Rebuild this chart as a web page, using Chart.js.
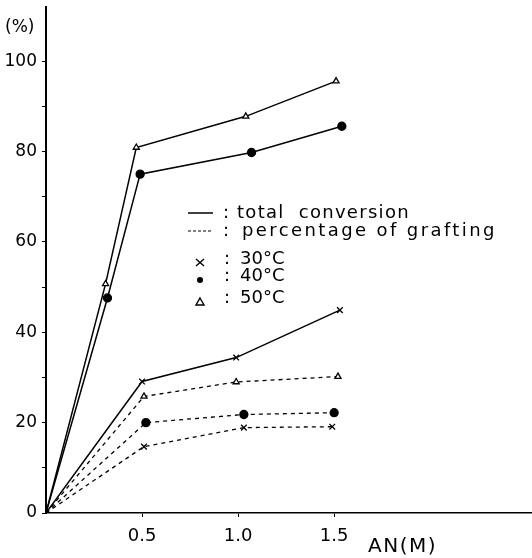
<!DOCTYPE html>
<html>
<head>
<meta charset="utf-8">
<script src="https://cdn.jsdelivr.net/npm/chart.js@4"></script>
<style>
  body { margin: 0; background: #fff; }
  canvas { display: block; }
</style>
</head>
<body>
<canvas id="graftChart" width="532" height="558"></canvas>
<script>
// AN concentration (M) and conversion values (%)
const xTotal30 = [0, 0.50, 0.99, 1.53];
const yTotal30 = [0, 29.1, 34.4, 44.9];
const xTotal40 = [0, 0.32, 0.49, 1.07, 1.54];
const yTotal40 = [0, 47.6, 75.0, 79.8, 85.6];
const xTotal50 = [0, 0.31, 0.47, 1.04, 1.51];
const yTotal50 = [0, 50.7, 80.9, 87.8, 95.6];

const xGraft30 = [0, 0.51, 1.03, 1.49];
const yGraft30 = [0, 14.7, 18.9, 19.1];
const xGraft40 = [0, 0.52, 1.03, 1.50];
const yGraft40 = [0, 20.0, 21.8, 22.2];
const xGraft50 = [0, 0.51, 0.99, 1.52];
const yGraft50 = [0, 25.8, 29.0, 30.2];

const xTickValues = [0.5, 1.0, 1.5];
const yTickValues = [0, 10, 20, 30, 40, 50, 60, 70, 80, 90, 100];
const yLabelled = [0, 20, 40, 60, 80, 100];

function pts(xs, ys) {
    return xs.map((x, i) => ({ x: x, y: ys[i] }));
}

function series(label, xs, ys, style, dashed) {
    let size = style == 'triangle' ? 3.5 : 4;
    return {
        label: label,
        data: pts(xs, ys),
        showLine: true,
        borderColor: '#000',
        borderWidth: dashed ? 1.3 : 1.5,
        borderDash: dashed ? [4, 4] : [],
        pointStyle: style,
        pointRadius: xs.map((x, i) => i == 0 ? 0 : size),
        pointBorderColor: '#000',
        pointBorderWidth: 1.3,
        pointBackgroundColor: style == 'triangle' ? '#fff' : '#000',
        tension: 0
    };
}

const font = "'DejaVu Sans', 'Liberation Sans', sans-serif";

const textPlugin = {
    id: 'textPlugin',
    afterDraw(chart) {
        let c = chart.ctx;
        c.save();
        c.fillStyle = '#000';
        c.strokeStyle = '#000';
        c.textBaseline = 'middle';
        c.font = '17px ' + font;
        c.fillText('(%)', 5, 28);
        c.font = '20px ' + font;
        c.letterSpacing = '1.5px';
        c.fillText('AN(M)', 368, 547);

        // legend
        c.font = '18px ' + font;
        c.letterSpacing = '1.3px';
        c.fillText('total  conversion', 237, 213);
        c.letterSpacing = '2.4px';
        c.fillText('percentage of grafting', 242, 231);
        c.letterSpacing = '0px';
        c.fillText(':', 223, 213);
        c.fillText(':', 223, 231);
        c.fillText(':', 224, 259);
        c.fillText(':', 224, 276);
        c.fillText(':', 224, 298);
        c.fillText('30°C', 240, 259);
        c.fillText('40°C', 240, 276);
        c.fillText('50°C', 240, 298);

        c.lineWidth = 1.5;
        c.beginPath();
        c.moveTo(188, 213); c.lineTo(213, 213);
        c.stroke();
        c.lineWidth = 1.2;
        c.setLineDash([3, 2]);
        c.beginPath();
        c.moveTo(188, 231); c.lineTo(213, 231);
        c.stroke();
        c.setLineDash([]);

        // legend markers
        c.lineWidth = 1.4;
        c.beginPath();
        c.moveTo(196, 259); c.lineTo(204, 266);
        c.moveTo(204, 259); c.lineTo(196, 266);
        c.stroke();
        c.beginPath();
        c.arc(200, 280, 3, 0, Math.PI * 2);
        c.fill();
        c.beginPath();
        c.moveTo(200, 298); c.lineTo(204, 305); c.lineTo(196, 305); c.closePath();
        c.stroke();
        c.restore();
    }
};

let ctx = document.getElementById('graftChart').getContext('2d');
let graftChart = new Chart(ctx, {
    type: 'scatter',
    data: {
        datasets: [
            series('total 30°C', xTotal30, yTotal30, 'crossRot', false),
            series('total 40°C', xTotal40, yTotal40, 'circle', false),
            series('total 50°C', xTotal50, yTotal50, 'triangle', false),
            series('grafting 30°C', xGraft30, yGraft30, 'crossRot', true),
            series('grafting 40°C', xGraft40, yGraft40, 'circle', true),
            series('grafting 50°C', xGraft50, yGraft50, 'triangle', true)
        ]
    },
    options: {
        responsive: false,
        animation: false,
        layout: {
            autoPadding: false,
            padding: { top: 7, right: 0, left: 0, bottom: 0 }
        },
        plugins: {
            legend: { display: false },
            tooltip: { enabled: false }
        },
        scales: {
            x: {
                type: 'linear',
                min: 0,
                max: 2.53,
                afterBuildTicks: (scale) => {
                    scale.ticks = xTickValues.map(v => ({ value: v }));
                },
                afterFit: (scale) => {
                    scale.height = 45;
                    scale.paddingLeft = 0;
                    scale.paddingRight = 0;
                },
                border: { color: '#000', width: 1.5 },
                grid: {
                    drawOnChartArea: false,
                    drawTicks: true,
                    tickLength: 4,
                    color: '#000'
                },
                ticks: {
                    color: '#000',
                    font: { size: 18, family: font },
                    padding: 9,
                    maxRotation: 0,
                    callback: (v) => v.toFixed(1)
                }
            },
            y: {
                min: 0,
                max: 112,
                afterBuildTicks: (scale) => {
                    scale.ticks = yTickValues.map(v => ({ value: v }));
                },
                afterFit: (scale) => {
                    scale.width = 46;
                    scale.paddingTop = 0;
                    scale.paddingBottom = 0;
                },
                border: { color: '#000', width: 2 },
                grid: {
                    drawOnChartArea: false,
                    drawTicks: true,
                    tickLength: 4,
                    color: '#000'
                },
                ticks: {
                    color: '#000',
                    font: { size: 17, family: font },
                    padding: 5,
                    callback: (v) => yLabelled.includes(v) ? String(v) : ''
                }
            }
        }
    },
    plugins: [textPlugin]
});
</script>
</body>
</html>
